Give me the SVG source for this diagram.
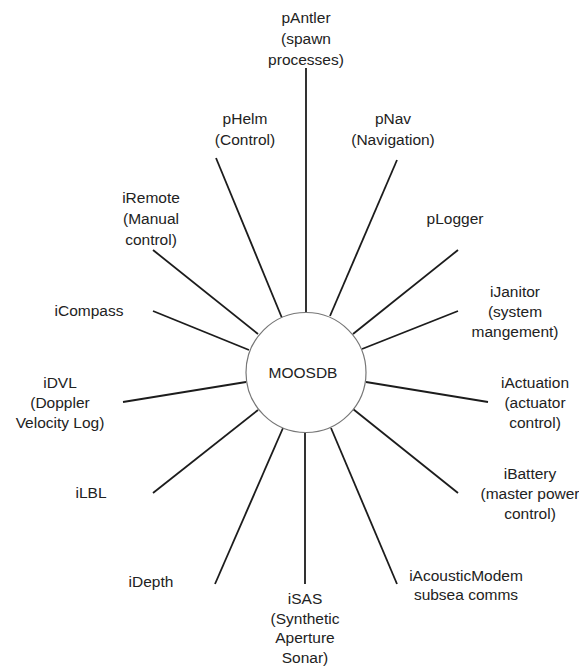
<svg xmlns="http://www.w3.org/2000/svg" width="579" height="668" viewBox="0 0 579 668">
  <style>
    .lbl { font-family: "Liberation Sans", Arial, sans-serif; font-size: 15.5px; fill: #222; text-anchor: middle; }
    .link { stroke: #1c1c1c; stroke-width: 1.8; fill: none; stroke-linecap: butt; }
    .hub { fill: #fff; stroke: #777; stroke-width: 1.2; }
  </style>
  <rect width="579" height="668" fill="#fff"/>

  <!-- spokes from the database hub out to each process -->
  <g id="connectors">
    <line class="link" x1="306" y1="68" x2="306" y2="313"/>
    <line class="link" x1="397" y1="160" x2="330" y2="316"/>
    <line class="link" x1="216" y1="158" x2="282" y2="318"/>
    <line class="link" x1="153" y1="250" x2="258" y2="334"/>
    <line class="link" x1="153" y1="311" x2="249" y2="350"/>
    <line class="link" x1="123" y1="402" x2="246" y2="382"/>
    <line class="link" x1="153" y1="493" x2="258" y2="410"/>
    <line class="link" x1="215" y1="584" x2="283" y2="428"/>
    <line class="link" x1="305" y1="432" x2="305" y2="584"/>
    <line class="link" x1="397" y1="584" x2="331" y2="428"/>
    <line class="link" x1="458" y1="493" x2="353" y2="409"/>
    <line class="link" x1="488" y1="402" x2="366" y2="382"/>
    <line class="link" x1="458" y1="311" x2="362" y2="349"/>
    <line class="link" x1="458" y1="250" x2="353" y2="334"/>
  </g>

  <g id="moosdb">
    <circle class="hub" cx="306" cy="372.5" r="60"/>
    <text class="lbl" x="303" y="378">MOOSDB</text>
  </g>

  <g id="pAntler">
    <text class="lbl" x="306" y="23">pAntler</text>
    <text class="lbl" x="306" y="44">(spawn</text>
    <text class="lbl" x="306" y="65">processes)</text>
  </g>
  <g id="pHelm">
    <text class="lbl" x="245" y="124">pHelm</text>
    <text class="lbl" x="245" y="145">(Control)</text>
  </g>
  <g id="pNav">
    <text class="lbl" x="393" y="124">pNav</text>
    <text class="lbl" x="393" y="145">(Navigation)</text>
  </g>
  <g id="iRemote">
    <text class="lbl" x="151" y="203">iRemote</text>
    <text class="lbl" x="151" y="224">(Manual</text>
    <text class="lbl" x="151" y="245">control)</text>
  </g>
  <g id="pLogger">
    <text class="lbl" x="455" y="224">pLogger</text>
  </g>
  <g id="iCompass">
    <text class="lbl" x="89" y="316">iCompass</text>
  </g>
  <g id="iJanitor">
    <text class="lbl" x="515" y="297">iJanitor</text>
    <text class="lbl" x="515" y="317">(system</text>
    <text class="lbl" x="515" y="337">mangement)</text>
  </g>
  <g id="iDVL">
    <text class="lbl" x="60" y="388">iDVL</text>
    <text class="lbl" x="60" y="408">(Doppler</text>
    <text class="lbl" x="60" y="428">Velocity Log)</text>
  </g>
  <g id="iActuation">
    <text class="lbl" x="535" y="388">iActuation</text>
    <text class="lbl" x="535" y="408">(actuator</text>
    <text class="lbl" x="535" y="428">control)</text>
  </g>
  <g id="iLBL">
    <text class="lbl" x="91" y="498">iLBL</text>
  </g>
  <g id="iBattery">
    <text class="lbl" x="530" y="479">iBattery</text>
    <text class="lbl" x="530" y="499">(master power</text>
    <text class="lbl" x="530" y="519">control)</text>
  </g>
  <g id="iDepth">
    <text class="lbl" x="151" y="587">iDepth</text>
  </g>
  <g id="iAcousticModem">
    <text class="lbl" x="466" y="581">iAcousticModem</text>
    <text class="lbl" x="466" y="600">subsea comms</text>
  </g>
  <g id="iSAS">
    <text class="lbl" x="305" y="604">iSAS</text>
    <text class="lbl" x="305" y="623.5">(Synthetic</text>
    <text class="lbl" x="305" y="643">Aperture</text>
    <text class="lbl" x="305" y="662.5">Sonar)</text>
  </g>
</svg>
